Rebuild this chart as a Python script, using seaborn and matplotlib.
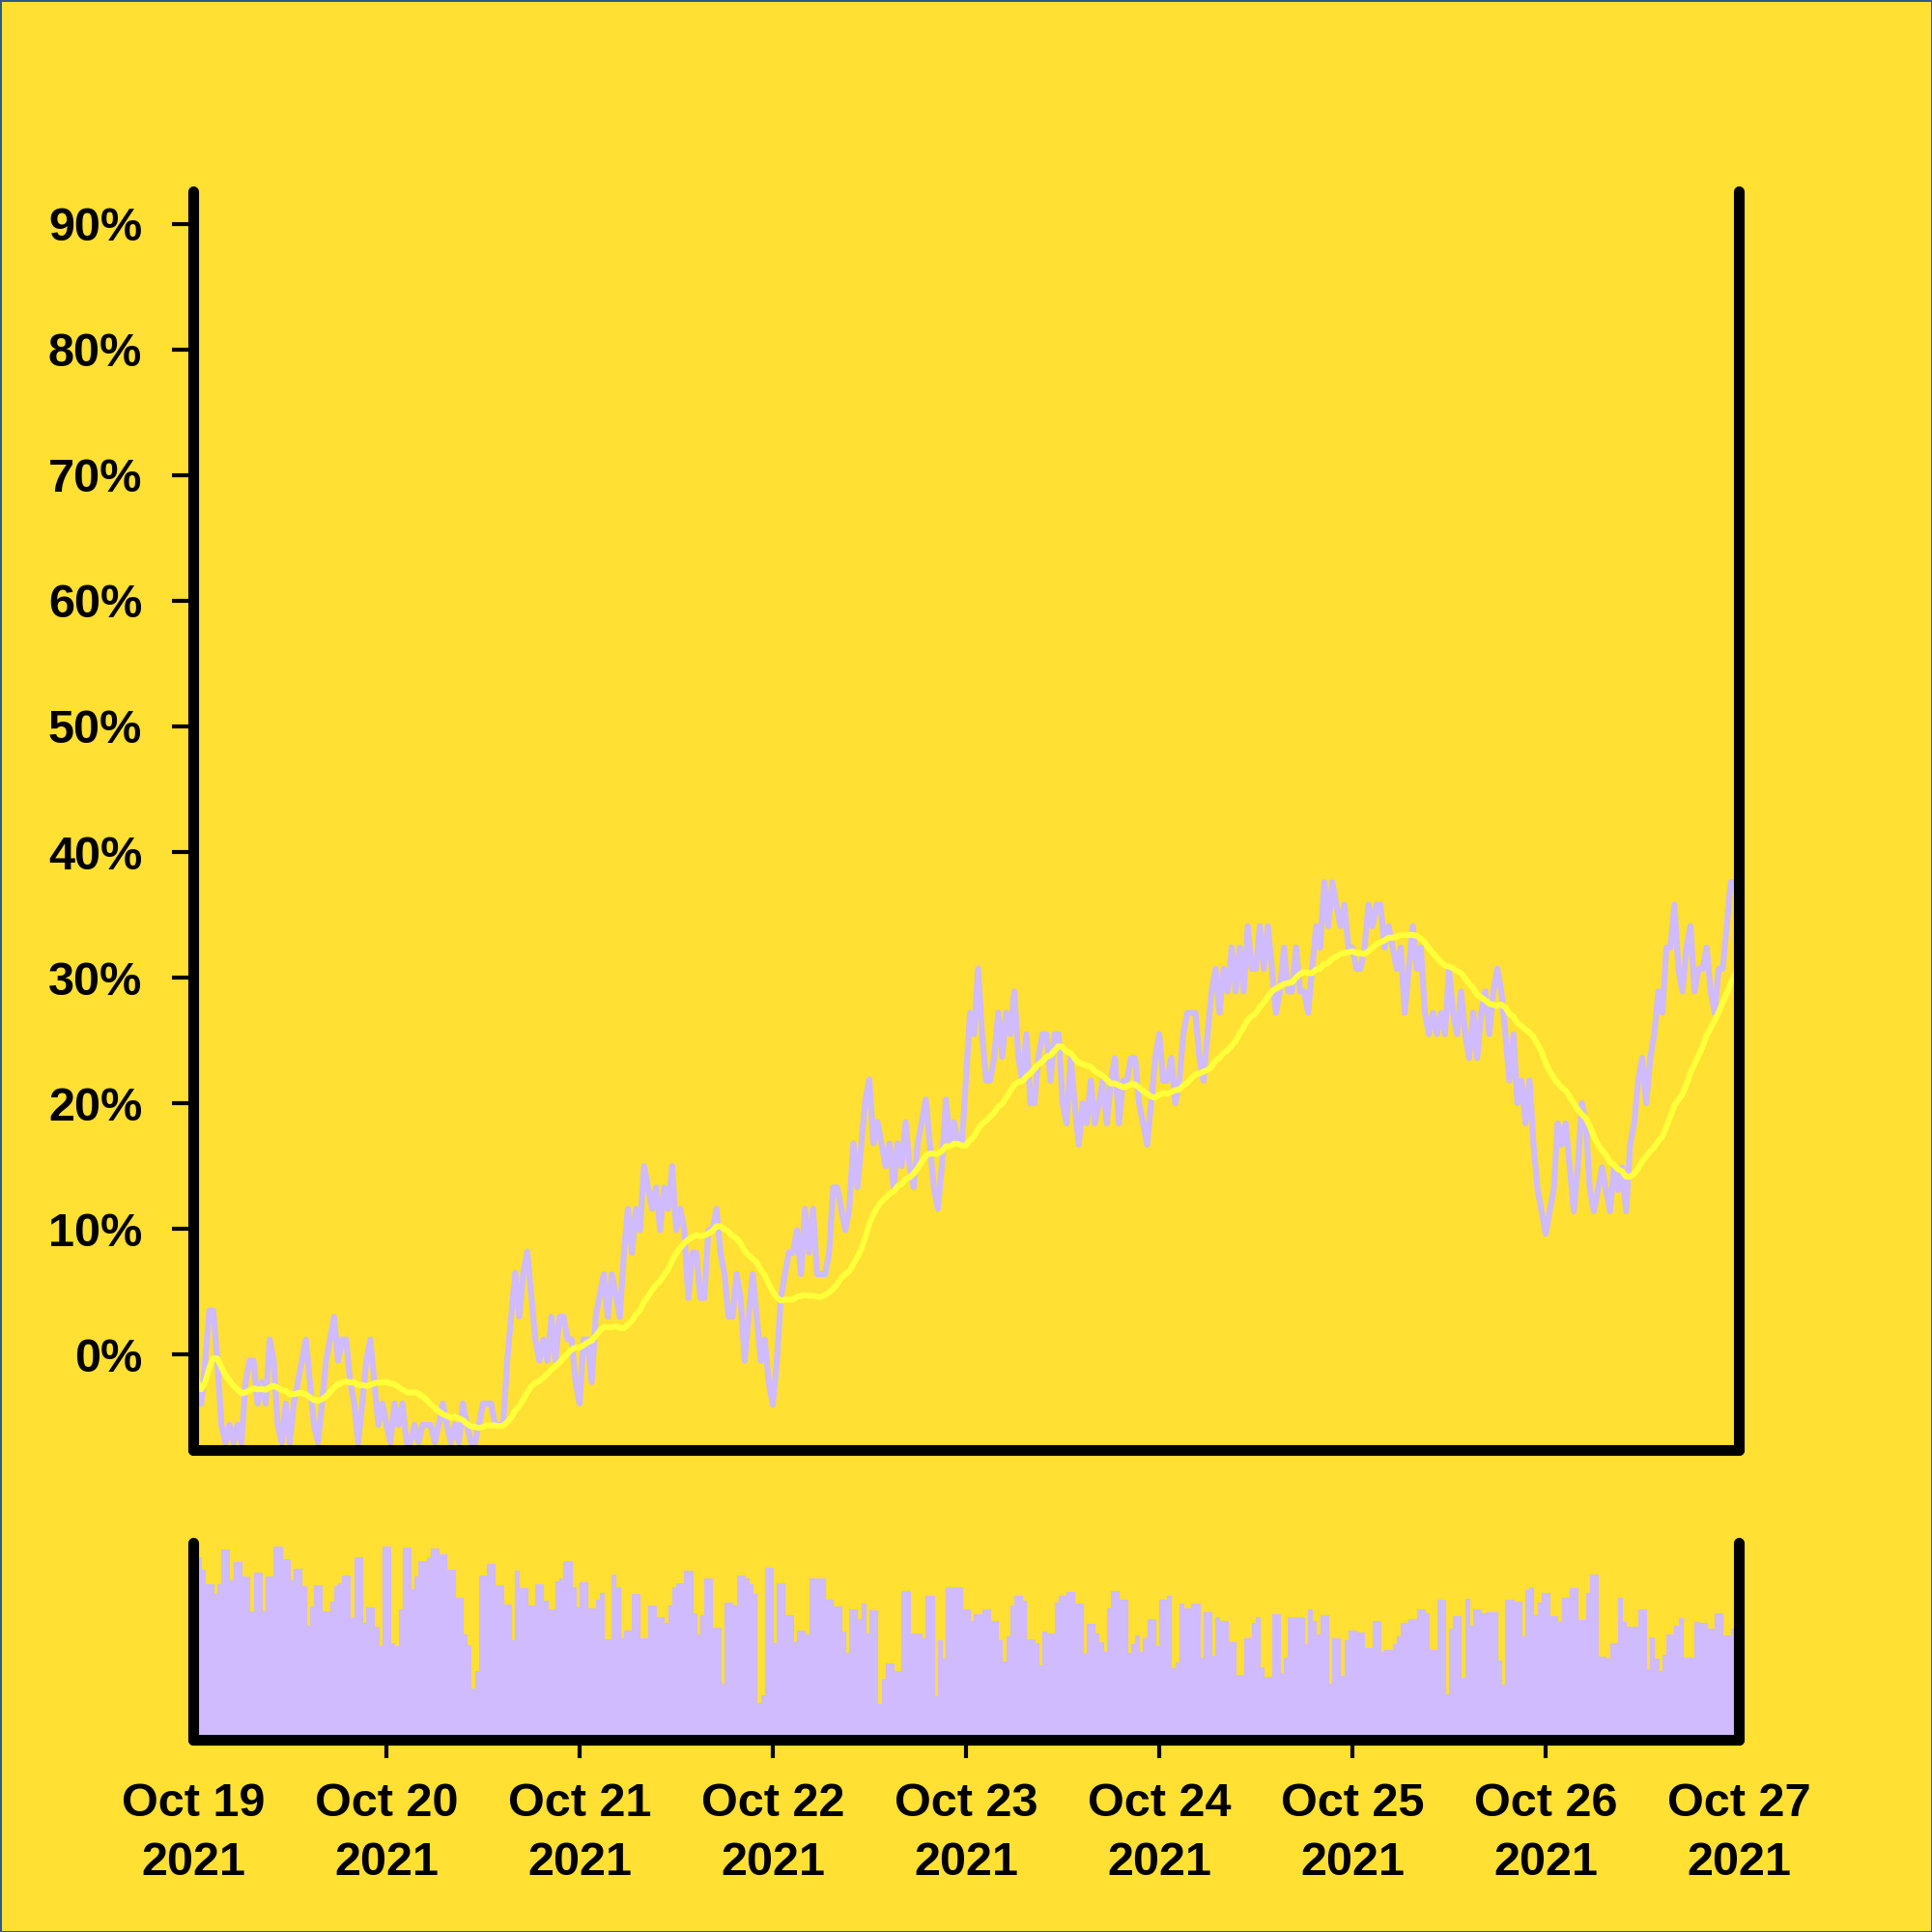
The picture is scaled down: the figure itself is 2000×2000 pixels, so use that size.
import numpy as np
import pandas as pd
import matplotlib
matplotlib.use("Agg")
import matplotlib.pyplot as plt
import matplotlib.dates as mdates
from matplotlib.ticker import PercentFormatter
import seaborn as sns

# price change (%) every 30 minutes, Oct 19 00:00 -> Oct 27 00:00
price_oct19_20 = [
    -0.5, -3.9, -3.9, -0.5, 3.5, 3.5, -0.5, -5.6, -7.0, -5.6,
    -7.0, -5.6, -7.0, -2.2, -0.5, -0.5, -3.9, -2.2, -3.9, 1.2,
    -0.5, -5.6, -7.0, -3.9, -7.0, -3.9, -2.2, -0.5, 1.2, -2.2,
    -5.6, -7.0, -3.9, -0.5, 1.2, 3.0, -0.5, 1.2, 1.2, -2.2,
    -3.9, -7.0, -3.9, -0.5, 1.2, -2.2, -5.6, -3.9, -5.6, -7.0,
    -3.9, -5.6, -3.9, -7.0, -7.0, -5.6, -7.0, -5.6, -5.6, -5.6,
    -7.0, -5.6, -3.9, -5.6, -7.0, -5.6, -7.0, -3.9, -5.6, -7.0,
    -7.0, -5.6, -3.9, -3.9, -3.9, -5.6, -5.6, -5.6, -0.5, 3.0,
    6.5, 3.0, 6.5, 8.2, 4.7, 1.2, -0.5, 1.2, -0.5, 3.0,
    -0.5, 3.0, 3.0, 1.2, 1.2, -2.2,
]
price_oct21_22 = [
    -3.9, 1.2, 1.2, -2.2, 3.0, 4.7, 6.4, 3.0, 6.4, 4.7,
    3.0, 8.1, 11.6, 8.1, 11.6, 9.9, 15.0, 13.3, 11.6, 13.3,
    9.9, 13.3, 11.6, 15.0, 9.9, 11.6, 9.9, 4.5, 8.1, 8.1,
    4.5, 4.5, 9.9, 9.9, 11.6, 8.1, 6.4, 3.0, 3.0, 6.4,
    4.5, -0.5, 3.0, 6.4, 3.0, -0.5, 1.2, -2.2, -4.0, -0.5,
    4.5, 6.4, 8.1, 8.1, 9.9, 6.4, 11.6, 8.1, 11.6, 6.4,
    6.4, 6.4, 8.1, 13.3, 13.3, 11.6, 9.9, 11.6, 16.8, 13.3,
    16.8, 20.3, 21.9, 16.8, 18.5, 16.8, 15.0, 16.8, 13.3, 16.8,
    15.0, 18.5, 15.0, 13.3, 16.8, 18.5, 20.3, 16.8, 13.3, 11.6,
    15.0, 20.3, 16.8, 18.5, 16.8, 16.8,
]
price_oct23_24 = [
    22.0, 27.2, 25.5, 30.7, 25.5, 21.8, 21.8, 23.7, 27.2, 23.7,
    27.2, 25.5, 28.9, 23.7, 21.8, 25.5, 20.0, 20.0, 23.7, 25.5,
    25.5, 21.8, 25.5, 25.5, 20.0, 18.4, 23.6, 20.0, 16.7, 20.0,
    18.4, 21.8, 18.4, 20.0, 21.8, 18.4, 21.8, 23.6, 18.4, 21.8,
    21.8, 23.6, 23.6, 20.0, 18.4, 16.7, 20.0, 23.6, 25.5, 21.8,
    21.8, 23.6, 20.0, 21.8, 25.5, 27.2, 27.2, 27.2, 23.6, 21.8,
    25.5, 28.9, 30.7, 27.2, 30.7, 28.9, 32.4, 28.9, 32.4, 28.9,
    34.1, 30.7, 30.7, 34.1, 30.7, 34.1, 30.7, 27.2, 28.9, 32.4,
    28.9, 28.9, 32.4, 28.9, 28.9, 27.2, 30.7, 34.1, 32.4, 37.6,
    34.1, 37.6, 35.8, 34.1, 35.8, 32.4,
]
price_oct25_26 = [
    32.4, 30.7, 30.7, 32.4, 35.8, 34.1, 35.8, 35.8, 32.4, 34.1,
    32.4, 30.7, 32.4, 27.2, 30.7, 34.1, 30.7, 32.4, 27.2, 25.5,
    27.2, 25.5, 27.2, 25.5, 30.7, 27.2, 25.5, 28.9, 25.5, 23.6,
    27.2, 23.6, 27.2, 28.9, 25.5, 28.9, 30.7, 28.9, 25.5, 21.8,
    25.5, 20.0, 21.8, 18.4, 21.8, 16.7, 13.1, 11.4, 9.6, 11.4,
    13.1, 18.4, 16.7, 18.4, 14.9, 11.4, 14.9, 20.0, 18.4, 13.1,
    11.4, 13.1, 14.9, 13.1, 11.4, 14.9, 13.1, 14.9, 11.4, 16.7,
    18.4, 21.8, 23.6, 20.0, 23.6, 25.5, 28.9, 27.2, 32.4, 32.4,
    35.8, 30.7, 28.9, 32.4, 34.1, 28.9, 30.7, 30.7, 32.4, 28.9,
    27.2, 30.7, 30.7, 34.1, 37.6, 37.6, 37.6,
]

# volume per 30-minute bar (arbitrary units)
volume_oct19_20 = [
    560, 560, 523, 478, 478, 448, 478, 586, 586, 491,
    546, 546, 503, 503, 395, 513, 513, 396, 503, 503,
    593, 593, 556, 556, 491, 526, 526, 473, 351, 410,
    476, 476, 395, 395, 425, 472, 480, 504, 504, 373,
    560, 560, 358, 406, 406, 348, 288, 594, 594, 298,
    288, 400, 592, 592, 463, 502, 548, 548, 561, 588,
    588, 571, 571, 523, 523, 437, 437, 325, 290, 156,
    210, 504, 504, 540, 540, 476, 476, 416, 416, 306,
    521, 465, 465, 412, 412, 478, 478, 428, 400, 400,
    486, 495, 550, 550, 468, 408,
]
volume_oct21_22 = [
    483, 483, 405, 405,
    432, 452, 310, 310, 508, 468, 312, 336, 336, 448,
    448, 311, 311, 412, 412, 377, 377, 358, 414, 468,
    480, 480, 521, 521, 388, 324, 383, 495, 495, 346,
    346, 173, 421, 421, 414, 506, 506, 496, 478, 448,
    114, 136, 530, 530, 298, 480, 480, 384, 384, 301,
    337, 337, 323, 496, 496, 497, 497, 430, 430, 409,
    409, 334, 268, 401, 401, 370, 420, 328, 398, 398,
    110, 188, 234, 234, 210, 210, 456, 456, 326, 326,
    326, 312, 442, 442, 133, 306, 248, 468, 468, 468,
    468, 401,
]
volume_oct23_24 = [
    402, 365, 386, 386, 400, 400, 366, 366, 305, 240,
    318, 413, 443, 443, 428, 310, 310, 298, 230, 333,
    326, 326, 423, 443, 443, 455, 455, 418, 418, 263,
    355, 355, 328, 300, 270, 403, 458, 458, 431, 431,
    268, 293, 321, 270, 311, 371, 371, 288, 431, 431,
    442, 220, 238, 418, 403, 403, 418, 418, 253, 391,
    391, 258, 376, 365, 365, 301, 301, 198, 198, 311,
    311, 358, 378, 223, 193, 193, 385, 385, 206, 251,
    378, 378, 377, 377, 293, 400, 366, 325, 383, 383,
    173, 311, 311, 195, 305, 337,
]
volume_oct25_26 = [
    337, 330, 330, 283,
    283, 365, 365, 271, 275, 275, 293, 318, 360, 360,
    371, 371, 401, 401, 388, 276, 276, 432, 432, 141,
    343, 380, 380, 191, 433, 350, 402, 402, 388, 391,
    391, 391, 245, 168, 431, 431, 426, 426, 318, 460,
    470, 383, 421, 450, 450, 380, 380, 361, 438, 438,
    465, 465, 368, 368, 450, 508, 508, 255, 255, 250,
    298, 298, 438, 363, 348, 348, 348, 400, 400, 216,
    315, 248, 210, 260, 325, 325, 350, 373, 252, 252,
    252, 363, 358, 358, 343, 343, 388, 388, 321, 321,
    342, 342,
]

BG = "#FFE033"
LAVENDER = "#CFBBFD"
MA_YELLOW = "#FFFF3A"

price = price_oct19_20 + price_oct21_22 + price_oct23_24 + price_oct25_26
volume = volume_oct19_20 + volume_oct21_22 + volume_oct23_24 + volume_oct25_26

df = pd.DataFrame({
    "time": pd.date_range("2021-10-19", periods=len(price), freq="30min"),
    "price": price,
})
df["ma"] = df["price"].rolling(24, min_periods=1).mean()
vol_df = pd.DataFrame({
    "time": pd.date_range("2021-10-19", periods=len(volume), freq="30min"),
    "volume": volume,
})

sns.set_style("ticks")
plt.rcParams["font.family"] = ["Liberation Sans", "DejaVu Sans"]
plt.rcParams["font.weight"] = "bold"
plt.rcParams["text.color"] = "black"
plt.rcParams["xtick.color"] = "black"
plt.rcParams["ytick.color"] = "black"

fig = plt.figure(figsize=(20, 20), dpi=100, facecolor=BG)
fig.patch.set_edgecolor("#2B5C8A")
fig.patch.set_linewidth(2)
ax = fig.add_axes([0.1, 0.2495, 0.8, 0.6515])
axv = fig.add_axes([0.1, 0.0995, 0.8, 0.102], sharex=ax)

for a in (ax, axv):
    a.set_facecolor(BG)
    a.spines["top"].set_visible(False)
    for s in ("left", "right", "bottom"):
        a.spines[s].set_linewidth(8)
        a.spines[s].set_capstyle("round")
        a.spines[s].set_color("black")
        a.spines[s].set_zorder(5)

sns.lineplot(data=df, x="time", y="price", ax=ax, color=LAVENDER,
             linewidth=4.4, legend=False)
sns.lineplot(data=df, x="time", y="ma", ax=ax, color=MA_YELLOW,
             linewidth=4.4, legend=False)

axv.bar(vol_df["time"], vol_df["volume"], width=1 / 48, align="edge",
        color=LAVENDER, edgecolor=LAVENDER, linewidth=0.8)

ax.set_xlim(pd.Timestamp("2021-10-19"), pd.Timestamp("2021-10-27"))
ax.set_ylim(-7.6, 92.6)
ax.set_yticks(np.arange(0, 91, 10))
ax.yaxis.set_major_formatter(PercentFormatter(decimals=0))
ax.tick_params(axis="y", length=16, width=3, pad=22, labelsize=35,
               colors="black")
ax.tick_params(axis="x", bottom=False, labelbottom=False)
ax.set_xlabel("")
ax.set_ylabel("")

axv.set_ylim(0, max(volume) * 1.02)
axv.set_yticks([])
axv.xaxis.set_major_locator(mdates.DayLocator())
axv.xaxis.set_major_formatter(mdates.DateFormatter("%b %d\n%Y"))
axv.tick_params(axis="x", length=14, width=3, pad=18, labelsize=35,
                colors="black")
axv.set_xlabel("")
axv.set_ylabel("")

fig.canvas.draw()
for lbl in axv.get_xticklabels():
    lbl.set_horizontalalignment("center")
    lbl.set_linespacing(1.45)
    lbl.set_fontweight("bold")
for lbl in ax.get_yticklabels():
    lbl.set_fontweight("bold")
xticks = axv.xaxis.get_major_ticks()
xticks[0].tick1line.set_visible(False)
xticks[-1].tick1line.set_visible(False)

fig.savefig("out.png", dpi=100, facecolor=BG, edgecolor=fig.patch.get_edgecolor())
